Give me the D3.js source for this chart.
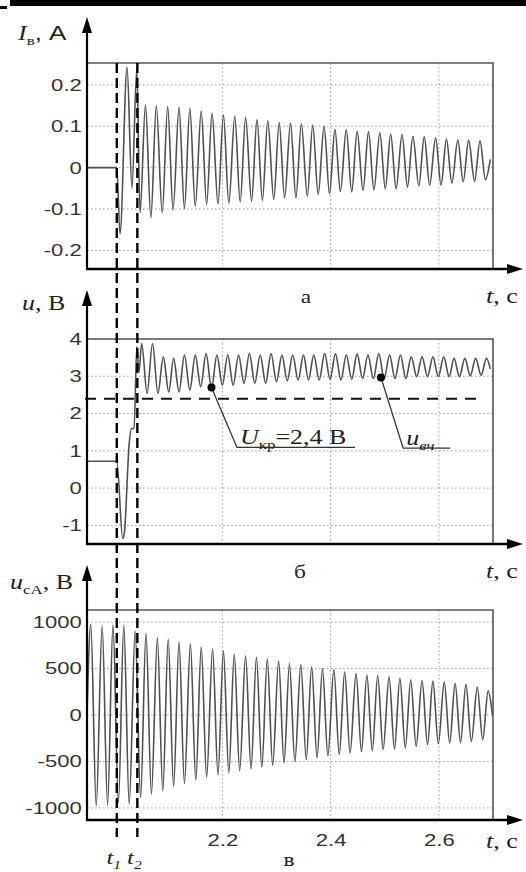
<!DOCTYPE html>
<html>
<head>
<meta charset="utf-8">
<script src="https://d3js.org/d3.v7.min.js"></script>
<style>
  body { margin: 0; background: #fff; }
  svg { display: block; }
</style>
</head>
<body>
<div id="chart"></div>
<script>
// ---- data ----
var xTicks = [2.2, 2.4, 2.6];
var tSwitch = [2.005, 2.043];          // t1, t2
var switchNames = ["1", "2"];
var iTicks = [-0.2, -0.1, 0, 0.1, 0.2];
var uTicks = [-1, 0, 1, 2, 3, 4];
var ucTicks = [-1000, -500, 0, 500, 1000];
var uCrit = 2.4;

// panel a: current, [t, A]
var iEdges = [[1.950, 0], [2.005, 0], [2.011, -0.160], [2.024, 0.243], [2.033, -0.050],
  [2.042, 0.240], [2.048, -0.109], [2.695, 0.020]];
var iPeaks = [[2.058, 0.152], [2.078, 0.150], [2.099, 0.148], [2.120, 0.146], [2.140, 0.143],
  [2.161, 0.137], [2.181, 0.132], [2.202, 0.128], [2.223, 0.124], [2.243, 0.121], [2.264, 0.116],
  [2.284, 0.114], [2.305, 0.109], [2.326, 0.107], [2.346, 0.106], [2.367, 0.103], [2.388, 0.100],
  [2.408, 0.093], [2.429, 0.092], [2.449, 0.088], [2.470, 0.087], [2.491, 0.084], [2.511, 0.081],
  [2.532, 0.080], [2.552, 0.076], [2.573, 0.075], [2.594, 0.072], [2.614, 0.069], [2.635, 0.067],
  [2.655, 0.066], [2.676, 0.065]];
var iTroughs = [[2.068, -0.121], [2.089, -0.109], [2.109, -0.102], [2.130, -0.099], [2.150, -0.093],
  [2.171, -0.089], [2.192, -0.088], [2.212, -0.086], [2.233, -0.083], [2.254, -0.081], [2.274, -0.079],
  [2.295, -0.077], [2.315, -0.073], [2.336, -0.073], [2.357, -0.069], [2.377, -0.065], [2.398, -0.063],
  [2.418, -0.058], [2.439, -0.059], [2.460, -0.055], [2.480, -0.054], [2.501, -0.051], [2.521, -0.051],
  [2.542, -0.047], [2.563, -0.044], [2.583, -0.042], [2.604, -0.042], [2.624, -0.037], [2.645, -0.034],
  [2.666, -0.033], [2.686, -0.029]];

// panel b: voltage, [t, V]
var uEdges = [[1.950, 0.72], [2.005, 0.72], [2.016, -1.35], [2.019, -1.20], [2.028, 1.20],
  [2.032, 1.60], [2.037, 1.60], [2.042, 3.80], [2.046, 3.10], [2.695, 3.20]];
var uPeaks = [[2.051, 3.88], [2.071, 3.88], [2.091, 3.52], [2.110, 3.48], [2.130, 3.57], [2.150, 3.57],
  [2.170, 3.61], [2.190, 3.57], [2.210, 3.57], [2.230, 3.57], [2.250, 3.61], [2.270, 3.57], [2.290, 3.61],
  [2.310, 3.57], [2.330, 3.57], [2.350, 3.57], [2.369, 3.57], [2.389, 3.61], [2.409, 3.60], [2.429, 3.57],
  [2.449, 3.60], [2.469, 3.57], [2.489, 3.61], [2.509, 3.57], [2.529, 3.57], [2.549, 3.52], [2.569, 3.52],
  [2.589, 3.52], [2.609, 3.52], [2.628, 3.48], [2.648, 3.48], [2.668, 3.48], [2.688, 3.48]];
var uTroughs = [[2.061, 2.54], [2.081, 2.54], [2.101, 2.58], [2.120, 2.58], [2.140, 2.63], [2.160, 2.72],
  [2.180, 2.68], [2.200, 2.76], [2.220, 2.76], [2.240, 2.81], [2.260, 2.81], [2.280, 2.81], [2.300, 2.85],
  [2.320, 2.88], [2.340, 2.90], [2.359, 2.90], [2.379, 2.90], [2.399, 2.92], [2.419, 2.90], [2.439, 2.92],
  [2.459, 2.94], [2.479, 2.94], [2.499, 2.94], [2.519, 2.94], [2.539, 2.94], [2.559, 2.99], [2.579, 2.99],
  [2.599, 2.99], [2.619, 2.99], [2.638, 2.99], [2.658, 3.01], [2.678, 3.03]];

// panel c: capacitor voltage, [t, V]
var ucEdges = [[1.950, 0], [2.699, 0]];
var ucPeaks = [[1.957, 975], [1.978, 960], [1.998, 970], [2.018, 965], [2.039, 900], [2.059, 880],
  [2.080, 830], [2.100, 815], [2.120, 785], [2.141, 765], [2.161, 730], [2.182, 710], [2.202, 690],
  [2.222, 656], [2.243, 638], [2.263, 621], [2.283, 603], [2.304, 580], [2.324, 555], [2.345, 540],
  [2.365, 520], [2.385, 500], [2.406, 490], [2.426, 465], [2.447, 450], [2.467, 430], [2.487, 425],
  [2.508, 410], [2.528, 395], [2.548, 380], [2.569, 372], [2.589, 365], [2.610, 354], [2.630, 340],
  [2.650, 330], [2.671, 300], [2.691, 260]];
var ucTroughs = [[1.967, -976], [1.988, -968], [2.008, -945], [2.028, -960], [2.049, -887], [2.069, -850],
  [2.090, -815], [2.110, -770], [2.130, -735], [2.151, -700], [2.171, -670], [2.192, -645], [2.212, -620],
  [2.232, -600], [2.253, -580], [2.273, -560], [2.293, -540], [2.314, -515], [2.334, -500], [2.355, -480],
  [2.375, -460], [2.395, -440], [2.416, -425], [2.436, -410], [2.457, -395], [2.477, -385], [2.497, -372],
  [2.518, -365], [2.538, -354], [2.558, -337], [2.579, -319], [2.599, -310], [2.620, -301], [2.640, -295],
  [2.660, -284], [2.681, -266]];

// annotation anchors in data units (panel b)
var critDot = [2.180, 2.70], critElbow = [2.227, 1.09], critEnd = 2.445;
var hfDot = [2.493, 2.97], hfElbow = [2.534, 1.07], hfEnd = 2.621;

// ---- drawing ----
var serif = "'Liberation Serif', 'Times New Roman', serif";
var sans = "'Liberation Sans', Arial, sans-serif";
var ink = "#222";

var svg = d3.select("#chart").append("svg")
    .attr("width", 526)
    .attr("height", 872);

// scan border at top
svg.append("rect").attr("x", 10).attr("y", 0).attr("width", 516).attr("height", 6).attr("fill", "#000");
svg.append("rect").attr("x", 0).attr("y", 6).attr("width", 7).attr("height", 3).attr("fill", "#000");

var x = d3.scaleLinear().domain([1.95, 2.70]).range([87, 493]);

function series(edges, peaks, troughs) {
    return edges.concat(peaks, troughs).sort(function(a, b) { return a[0] - b[0]; });
}

// text made of parts: {t, it, sub, fam}
function label(parent, px, py, parts, size, anchor, fam) {
    var txt = parent.append("text")
        .attr("transform", "translate(" + px + "," + py + ") scale(1.3,1)")
        .attr("font-family", fam || serif)
        .attr("font-size", size)
        .attr("text-anchor", anchor || "start")
        .attr("fill", ink);
    var shift = 0;
    parts.forEach(function(p) {
        var target = p.sub ? Math.round(size * 0.25) : 0;
        var s = txt.append("tspan").text(p.t).attr("dy", target - shift);
        shift = target;
        if (p.it) s.attr("font-style", "italic");
        if (p.sub) s.attr("font-size", Math.round(size * 0.65));
        if (p.fam) s.attr("font-family", p.fam);
    });
    return txt;
}

var panels = [
    { y: d3.scaleLinear().domain([-0.245, 0.253]).range([269, 63]), ticks: iTicks,
      data: series(iEdges, iPeaks, iTroughs), tip: 17, letter: "а", letterX: 306, letterY: 303, tY: 303,
      yl: { x: 18, y: 40, parts: [{ t: "I", it: true }, { t: "в", sub: true }, { t: ", A", fam: sans }] } },
    { y: d3.scaleLinear().domain([-1.5, 4]).range([544, 339]), ticks: uTicks,
      data: series(uEdges, uPeaks, uTroughs), tip: 290, letter: "б", letterX: 300, letterY: 578, tY: 578,
      yl: { x: 22, y: 310, parts: [{ t: "u", it: true }, { t: ", В" }] } },
    { y: d3.scaleLinear().domain([-1130, 1130]).range([820, 610]), ticks: ucTicks,
      data: series(ucEdges, ucPeaks, ucTroughs), tip: 565, letter: "в", letterX: 289, letterY: 866, tY: 848,
      yl: { x: 10, y: 589, parts: [{ t: "u", it: true }, { t: "сА", sub: true }, { t: ", В" }] } }
];

panels.forEach(function(p, k) {
    var g = svg.append("g");
    var y0 = p.y.range()[0], y1 = p.y.range()[1];
    var left = x.range()[0], right = x.range()[1];

    // dotted grid
    g.selectAll(".hgrid").data(p.ticks).enter().append("line")
        .attr("x1", left).attr("x2", right)
        .attr("y1", function(d) { return p.y(d); })
        .attr("y2", function(d) { return p.y(d); })
        .attr("stroke", "#9a9a9a").attr("stroke-width", 1).attr("stroke-dasharray", "1.5,2.5");
    g.selectAll(".vgrid").data(xTicks).enter().append("line")
        .attr("x1", function(d) { return x(d); })
        .attr("x2", function(d) { return x(d); })
        .attr("y1", y1).attr("y2", y0)
        .attr("stroke", "#9a9a9a").attr("stroke-width", 1).attr("stroke-dasharray", "1.5,2.5");

    // waveform
    g.append("clipPath").attr("id", "clip" + k).append("rect")
        .attr("x", left).attr("y", y1).attr("width", right - left).attr("height", y0 - y1);
    var line = d3.line()
        .x(function(d) { return x(d[0]); })
        .y(function(d) { return p.y(d[1]); })
        .curve(d3.curveMonotoneX);
    g.append("path").datum(p.data)
        .attr("clip-path", "url(#clip" + k + ")")
        .attr("d", line)
        .attr("fill", "none")
        .attr("stroke", "#505050")
        .attr("stroke-width", 1.6);

    // frame: top and right
    g.append("path")
        .attr("d", "M" + left + "," + y1 + "H" + right + "V" + y0)
        .attr("fill", "none").attr("stroke", "#555").attr("stroke-width", 1.6);

    // y tick labels
    var ay = g.append("g").attr("transform", "translate(" + left + ",0)")
        .call(d3.axisLeft(p.y).tickValues(p.ticks).tickSize(0).tickPadding(0)
            .tickFormat(function(d) { return String(d); }));
    ay.select(".domain").remove();
    ay.attr("font-family", sans).attr("font-size", 17);
    ay.selectAll("text").attr("x", -4).attr("transform", "scale(1.3,1)").attr("fill", "#333");

    // axes with arrows
    g.append("line").attr("x1", left).attr("x2", left).attr("y1", y0 + 1).attr("y2", p.tip + 10)
        .attr("stroke", "#000").attr("stroke-width", 2.2);
    g.append("path")
        .attr("d", "M" + left + "," + p.tip + "L" + (left - 5) + "," + (p.tip + 16) + "L" + (left + 5) + "," + (p.tip + 16) + "Z")
        .attr("fill", "#000");
    g.append("line").attr("x1", left - 1).attr("x2", 512).attr("y1", y0).attr("y2", y0)
        .attr("stroke", "#000").attr("stroke-width", 2.6);
    g.append("path")
        .attr("d", "M523," + y0 + "L507," + (y0 - 5) + "L507," + (y0 + 5) + "Z")
        .attr("fill", "#000");

    // labels
    label(g, p.yl.x, p.yl.y, p.yl.parts, 20);
    label(g, 486, p.tY, [{ t: "t", it: true }, { t: ", с" }], 20);
    label(g, p.letterX, p.letterY, [{ t: p.letter }], 18, "middle");
});

// x tick labels on the bottom panel
var pc = panels[2];
var ax = svg.append("g").attr("transform", "translate(0," + pc.y.range()[0] + ")")
    .call(d3.axisBottom(x).tickValues(xTicks).tickSize(0).tickPadding(14)
        .tickFormat(function(d) { return String(d); }));
ax.select(".domain").remove();
ax.attr("font-family", sans).attr("font-size", 17);
ax.selectAll("text").attr("transform", "scale(1.3,1)").attr("fill", "#333");

// threshold line in panel b
var pb = panels[1];
svg.append("line")
    .attr("x1", x(1.95) - 2).attr("x2", x(2.68))
    .attr("y1", pb.y(uCrit)).attr("y2", pb.y(uCrit))
    .attr("stroke", "#111").attr("stroke-width", 2).attr("stroke-dasharray", "11,8");

// switching instants t1, t2
svg.selectAll(".sw").data(tSwitch).enter().append("line")
    .attr("x1", function(d) { return x(d); })
    .attr("x2", function(d) { return x(d); })
    .attr("y1", panels[0].y.range()[1])
    .attr("y2", 837)
    .attr("stroke", "#000").attr("stroke-width", 2.4).attr("stroke-dasharray", "10,5");
tSwitch.forEach(function(d, i) {
    label(svg, x(d) - 3, 864, [{ t: "t", it: true }, { t: switchNames[i], sub: true, it: true }], 19, "middle");
});

// annotations in panel b
function callout(dot, elbow, end, parts) {
    svg.append("path")
        .attr("d", "M" + x(dot[0]) + "," + pb.y(dot[1]) + "L" + x(elbow[0]) + "," + pb.y(elbow[1]) + "H" + x(end))
        .attr("fill", "none").attr("stroke", "#333").attr("stroke-width", 1.3);
    svg.append("circle").attr("cx", x(dot[0])).attr("cy", pb.y(dot[1])).attr("r", 4).attr("fill", "#000");
    label(svg, x(elbow[0]) + 3, pb.y(elbow[1]) - 3, parts, 20);
}
callout(critDot, critElbow, critEnd, [{ t: "U", it: true }, { t: "кр", sub: true }, { t: "=2,4 В" }]);
callout(hfDot, hfElbow, hfEnd, [{ t: "u", it: true }, { t: "вч", sub: true, it: true }]);
</script>
</body>
</html>
